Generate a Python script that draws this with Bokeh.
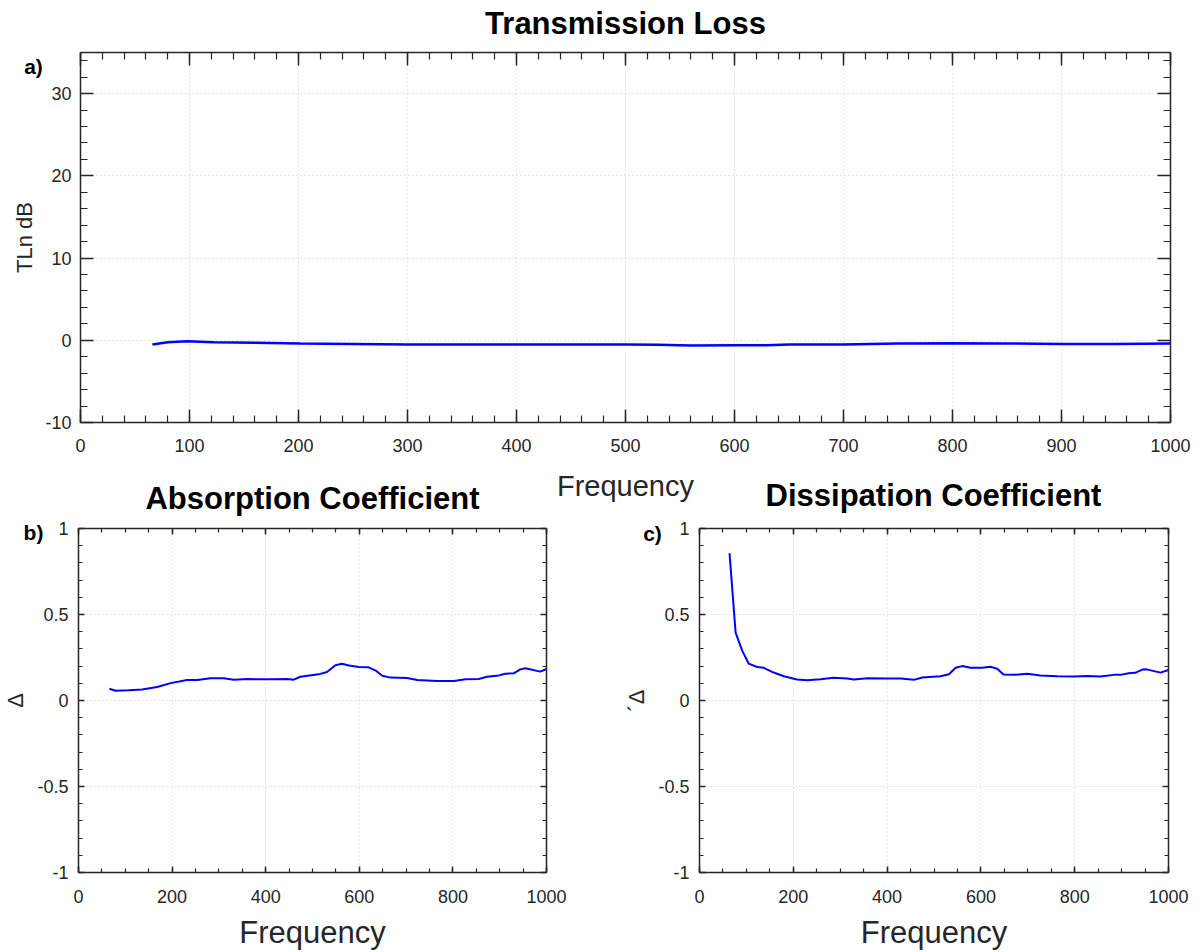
from bokeh.plotting import figure
from bokeh.layouts import column, row
from bokeh.models import (LinearAxis, SingleIntervalTicker, Label, Range1d,
                          CustomJSTickFormatter)
from bokeh.embed import file_html
from bokeh.resources import INLINE

# ---------------- data ----------------
freq_tl = [66, 80, 98, 122, 160, 202, 250, 300, 350, 400, 450, 500, 530, 560,
           600, 630, 650, 700, 750, 800, 850, 900, 950, 1000]
tl_db = [-0.52, -0.25, -0.12, -0.25, -0.3, -0.4, -0.45, -0.5, -0.5, -0.5, -0.5,
         -0.5, -0.55, -0.62, -0.6, -0.6, -0.5, -0.5, -0.4, -0.35, -0.38, -0.45,
         -0.45, -0.4]

freq_abs = [66, 79, 107, 136, 168, 197, 232, 254, 282, 310, 332, 360, 389, 417,
            446, 460, 474, 513, 531, 549, 563, 578, 599, 620, 635, 649, 667, 702,
            724, 766, 802, 827, 855, 873, 898, 912, 930, 944, 955, 987, 1000]
abs_coef = [0.068, 0.057, 0.059, 0.064, 0.078, 0.101, 0.119, 0.119, 0.129, 0.129,
            0.121, 0.125, 0.123, 0.123, 0.125, 0.121, 0.138, 0.152, 0.166, 0.205,
            0.214, 0.203, 0.195, 0.193, 0.174, 0.144, 0.133, 0.131, 0.119, 0.113,
            0.113, 0.123, 0.125, 0.138, 0.146, 0.156, 0.158, 0.181, 0.187, 0.168,
            0.183]

freq_dis = [64, 77, 91, 105, 123, 137, 155, 180, 208, 230, 258, 286, 315, 329,
            358, 400, 429, 457, 475, 514, 532, 546, 560, 578, 603, 620, 635, 648,
            670, 699, 727, 763, 798, 827, 855, 883, 897, 915, 929, 944, 953, 983,
            1000]
dis_coef = [0.857, 0.395, 0.29, 0.214, 0.195, 0.19, 0.166, 0.141, 0.122, 0.118,
            0.124, 0.132, 0.128, 0.122, 0.13, 0.128, 0.128, 0.12, 0.134, 0.141,
            0.153, 0.19, 0.2, 0.19, 0.19, 0.196, 0.185, 0.151, 0.149, 0.155,
            0.145, 0.141, 0.139, 0.143, 0.139, 0.149, 0.149, 0.159, 0.161, 0.18,
            0.181, 0.162, 0.177]

titles = ["Transmission Loss", "Absorption Coefficient", "Dissipation Coefficient"]
panel_tags = ["a)", "b)", "c)"]
x_label = "Frequency"
y_labels = ["TLn dB", "\u0394", "\u00b4\u0394"]

# ---------------- style ----------------
FONT = "Liberation Sans"
TXT = "#262626"
AX = "#262626"
BLUE = "#0000ff"


def make_fig(fw, fh, xr, yr, bl, br, bt, bb, transparent=False):
    p = figure(frame_width=fw, frame_height=fh, x_range=Range1d(*xr),
               y_range=Range1d(*yr), output_backend="svg", toolbar_location=None,
               min_border_left=bl, min_border_right=br, min_border_top=bt,
               min_border_bottom=bb)
    p.outline_line_color = None
    p.background_fill_color = "white"
    p.border_fill_color = None if transparent else "white"
    return p


def style_axes(p, xtick, ytick, maj, mnr, tick_fs, xlabel_fs, ylabel, ylabel_fs,
               xstand, xlab_stand, ystand, ylab_stand):
    fmt_x = CustomJSTickFormatter(code="return String(tick);")
    fmt_y = CustomJSTickFormatter(code="return String(tick);")
    for ax in p.xaxis:
        ax.ticker = xtick
        ax.formatter = fmt_x
    for ax in p.yaxis:
        ax.ticker = ytick
        ax.formatter = fmt_y
    for ax in list(p.xaxis) + list(p.yaxis):
        ax.axis_line_color = AX
        ax.axis_line_width = 1.5
        ax.major_tick_line_color = AX
        ax.major_tick_line_width = 1.5
        ax.minor_tick_line_color = AX
        ax.minor_tick_line_width = 1.2
        ax.major_tick_in = maj
        ax.major_tick_out = 0
        ax.minor_tick_in = mnr
        ax.minor_tick_out = 0
        ax.major_label_text_font = FONT
        ax.major_label_text_font_size = tick_fs
        ax.major_label_text_color = TXT
        ax.axis_label_text_font = FONT
        ax.axis_label_text_font_style = "normal"
        ax.axis_label_text_color = TXT
    p.xaxis.axis_label = x_label
    p.xaxis.axis_label_text_font_size = xlabel_fs
    p.xaxis.major_label_standoff = xstand
    p.xaxis.axis_label_standoff = xlab_stand
    p.yaxis.axis_label = ylabel
    p.yaxis.axis_label_text_font_size = ylabel_fs
    p.yaxis.major_label_standoff = ystand
    p.yaxis.axis_label_standoff = ylab_stand
    # box axes (top and right) with inward ticks and no labels
    for loc, tk in (("above", xtick), ("right", ytick)):
        ax = LinearAxis(ticker=tk, major_label_text_font_size="1px",
                        major_label_text_color=None,
                        major_label_standoff=0, axis_line_color=AX,
                        axis_line_width=1.5, major_tick_line_color=AX,
                        major_tick_line_width=1.5, minor_tick_line_color=AX,
                        minor_tick_line_width=1.2, major_tick_in=maj,
                        major_tick_out=0, minor_tick_in=mnr, minor_tick_out=0)
        p.add_layout(ax, loc)
    p.grid.grid_line_color = "#cfcfcf"
    p.grid.grid_line_dash = "1 3"
    p.grid.grid_line_width = 1


def to_data(px, py, geom):
    left, top, w, h, x0, x1, y0, y1 = geom
    return (x0 + (px - left) / w * (x1 - x0), y1 - (py - top) / h * (y1 - y0))


def add_text(p, side, geom, px, py, text, size):
    # label kept in a side panel (so it is not clipped to the frame) and
    # positioned through the figure's own data scales; (px, py) = text centre
    x, y = to_data(px, py, geom)
    p.add_layout(Label(x=x, y=y, text=text, text_font=FONT, text_font_size=size,
                       text_font_style="bold", text_color="black",
                       text_align="center", text_baseline="middle"), side)


# page geometry: frame left, top, width, height, then data ranges
G_TOP = (80, 52, 1090, 370, 0, 1000, -10, 35)
G_B = (78, 528, 468, 344, 0, 1000, -1, 1)
G_C = (699, 528, 469, 344, 0, 1000, -1, 1)
ROW_LIFT = 46   # bottom row overlaps the (empty) lower strip of the top canvas

# ---------------- top panel ----------------
top = make_fig(1090, 370, (0, 1000), (-10, 35), 80, 22, 52, 98)
style_axes(top, SingleIntervalTicker(interval=100, num_minor_ticks=5),
           SingleIntervalTicker(interval=10, num_minor_ticks=5), 13, 7,
           "18px", "29px", y_labels[0], "22px", xstand=16, xlab_stand=15,
           ystand=9, ylab_stand=5)
top.line(freq_tl, tl_db, line_color=BLUE, line_width=2.5)
add_text(top, "above", G_TOP, 625, 23, titles[0], "31px")
add_text(top, "right", G_TOP, 33, 66, panel_tags[0], "21px")

# ---------------- panel b ----------------
pb = make_fig(468, 344, (0, 1000), (-1, 1), 78, 40, 54, 80, transparent=True)
style_axes(pb, SingleIntervalTicker(interval=200, num_minor_ticks=4),
           SingleIntervalTicker(interval=0.5, num_minor_ticks=5), 6, 4,
           "18px", "31px", y_labels[1], "22px", xstand=17, xlab_stand=9,
           ystand=10, ylab_stand=6)
pb.line(freq_abs, abs_coef, line_color=BLUE, line_width=2)
add_text(pb, "above", G_B, 312, 498, titles[1], "31px")
add_text(pb, "right", G_B, 33, 532, panel_tags[1], "21px")

# ---------------- panel c ----------------
pc = make_fig(469, 344, (0, 1000), (-1, 1), 113, 22, 54, 80, transparent=True)
style_axes(pc, SingleIntervalTicker(interval=200, num_minor_ticks=4),
           SingleIntervalTicker(interval=0.5, num_minor_ticks=5), 6, 4,
           "18px", "31px", y_labels[2], "22px", xstand=17, xlab_stand=9,
           ystand=10, ylab_stand=6)
pc.line(freq_dis, dis_coef, line_color=BLUE, line_width=2)
add_text(pc, "above", G_C, 933, 495, titles[2], "31px")
add_text(pc, "right", G_C, 652, 533, panel_tags[2], "21px")

bottom_row = row(pb, pc, spacing=0, margin=(-ROW_LIFT, 0, 0, 0))
layout = column(top, bottom_row, spacing=0)

with open("out.html", "w") as f:
    f.write(file_html(layout, INLINE))
